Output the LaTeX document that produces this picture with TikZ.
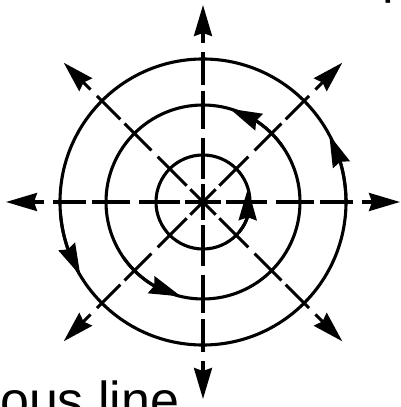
\documentclass[tikz,border=0pt]{standalone}
\usepackage{fontspec}
\setmainfont{Liberation Sans}
\usetikzlibrary{arrows.meta,bending}

\begin{document}
\begin{tikzpicture}[
  x=1pt, y=1pt,
  ring/.style={line width=3.1pt, draw=black},
  ray/.style={line width=3.1pt,
              dash pattern=on 18pt off 5pt on 41pt off 9pt on 38pt off 6pt on 33pt off 9pt,
              -{Stealth[length=31pt, width=18pt, inset=3pt]}},
  spin/.style={line width=3.1pt, -{Stealth[length=32pt, width=18pt, inset=3pt]}},
  cut/.style={font=\fontsize{52}{60}\selectfont, inner sep=0pt, anchor=base west}
]
\useasboundingbox (0,0) rectangle (400,407);
\coordinate (C) at (203,205);

% circles
\foreach \r in {47,97,143}
  \draw[ring] (C) circle[radius=\r];

% radial arrows
\foreach \a in {0,45,...,315} {
  \coordinate (r\a) at ([shift={(\a:197)}]C);
  \draw[ray] (C) -- (r\a);
}

% sense of turning on the circles
\draw[spin] ([shift={(-40:47)}]C) arc[start angle=-40, end angle=17, radius=47];
\draw[spin] ([shift={(35:97)}]C) arc[start angle=35, end angle=74, radius=97];
\draw[spin] ([shift={(215:97)}]C) arc[start angle=215, end angle=257, radius=97];
\draw[spin] ([shift={(0:143)}]C) arc[start angle=0, end angle=28, radius=143];
\draw[spin] ([shift={(185:143)}]C) arc[start angle=185, end angle=211, radius=143];

% cut-off caption text
\node[cut] (cap) at (-29,-12) {uous line};
\node[cut] (top) at (382,414) {p};
\end{tikzpicture}
\end{document}
